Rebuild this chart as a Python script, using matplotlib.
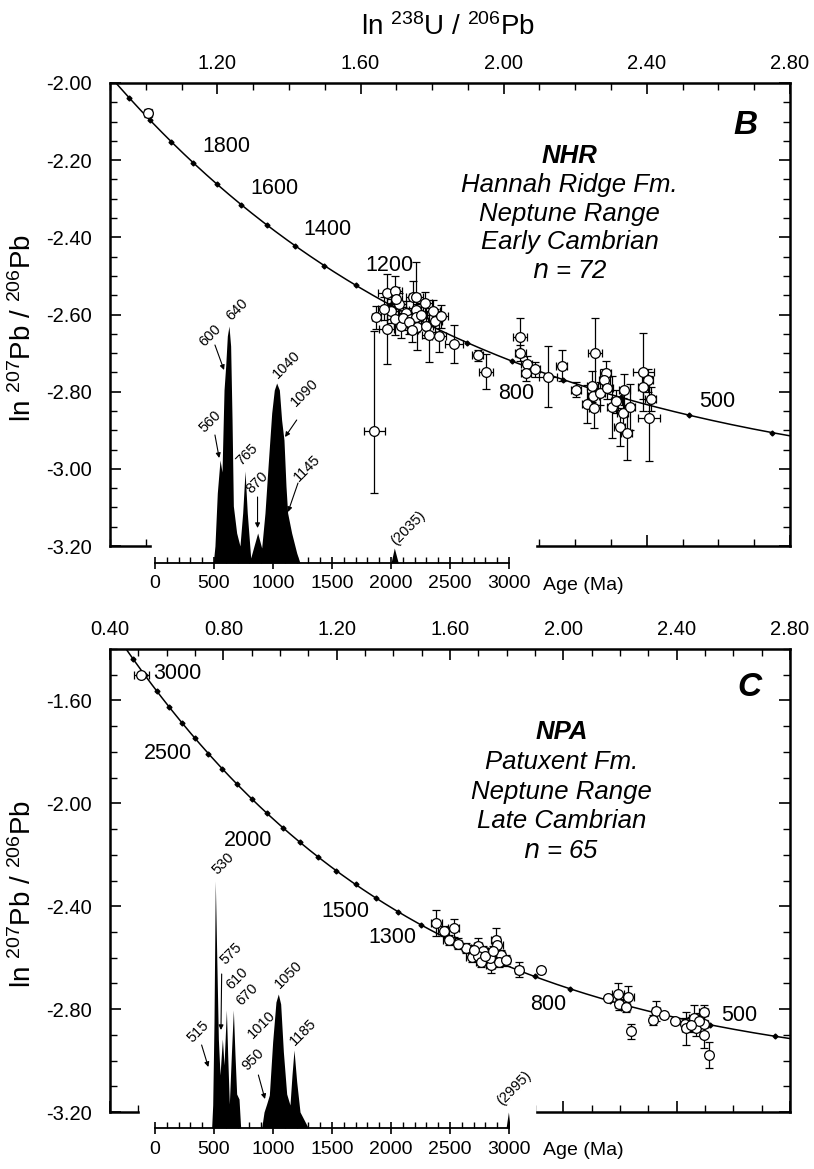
import numpy as np
import matplotlib.pyplot as plt
from matplotlib.ticker import MultipleLocator, FormatStrFormatter
from matplotlib.patches import Rectangle

plt.rcParams['font.family'] = ['Liberation Sans', 'DejaVu Sans']
plt.rcParams['mathtext.default'] = 'regular'
plt.rcParams['axes.unicode_minus'] = False

# ---------------- data ----------------
# panel B (NHR): ln 238U/206Pb, ln 207Pb/206Pb and errors
b_x = [1.007, 1.639, 1.644, 1.673, 1.695, 1.673, 1.686, 1.707, 1.695, 1.714,
       1.728, 1.718, 1.740, 1.746, 1.755, 1.755, 1.757, 1.754, 1.779, 1.783,
       1.791, 1.802, 1.809, 1.825, 1.820, 1.862, 1.927, 1.951, 2.046, 2.046,
       2.064, 2.062, 2.087, 2.125, 2.162, 2.202, 2.234, 2.255, 2.248, 2.250,
       2.253, 2.269, 2.285, 2.281, 2.290, 2.304, 2.315, 2.332, 2.337, 2.324,
       2.344, 2.352, 2.390, 2.402, 2.390, 2.411, 2.406, 1.665, 1.700, 1.735,
       1.770, 1.745]
b_y = [-2.078, -2.903, -2.607, -2.545, -2.539, -2.638, -2.591, -2.573, -2.612, -2.631,
       -2.595, -2.610, -2.612, -2.554, -2.555, -2.588, -2.633, -2.607, -2.571, -2.631,
       -2.653, -2.592, -2.616, -2.605, -2.657, -2.676, -2.706, -2.748, -2.659, -2.700,
       -2.728, -2.752, -2.742, -2.761, -2.733, -2.795, -2.832, -2.700, -2.786, -2.810,
       -2.843, -2.804, -2.751, -2.771, -2.790, -2.839, -2.825, -2.856, -2.795, -2.892,
       -2.908, -2.839, -2.749, -2.771, -2.788, -2.819, -2.869, -2.585, -2.560, -2.620,
       -2.600, -2.640]
b_xerr = [0.010, 0.030, 0.012, 0.025, 0.020, 0.020, 0.020, 0.020, 0.020, 0.020,
          0.020, 0.020, 0.020, 0.020, 0.020, 0.020, 0.020, 0.020, 0.020, 0.020,
          0.020, 0.020, 0.020, 0.020, 0.020, 0.025, 0.015, 0.020, 0.020, 0.015,
          0.015, 0.015, 0.015, 0.025, 0.015, 0.015, 0.015, 0.020, 0.015, 0.015,
          0.015, 0.015, 0.015, 0.015, 0.015, 0.015, 0.015, 0.015, 0.015, 0.015,
          0.015, 0.015, 0.030, 0.015, 0.015, 0.015, 0.030, 0.015, 0.015, 0.015,
          0.015, 0.015]
b_yerr_lo = [0.010, 0.160, 0.030, 0.050, 0.040, 0.090, 0.030, 0.030, 0.040, 0.030,
             0.030, 0.030, 0.030, 0.040, 0.090, 0.030, 0.060, 0.030, 0.030, 0.030,
             0.070, 0.030, 0.030, 0.030, 0.040, 0.050, 0.015, 0.045, 0.050, 0.020,
             0.020, 0.020, 0.020, 0.080, 0.040, 0.020, 0.050, 0.090, 0.040, 0.030,
             0.050, 0.030, 0.030, 0.030, 0.030, 0.080, 0.030, 0.040, 0.040, 0.050,
             0.070, 0.060, 0.100, 0.030, 0.030, 0.030, 0.110, 0.030, 0.030, 0.030,
             0.030, 0.030]
b_yerr_hi = list(b_yerr_lo)
b_yerr_hi[1] = 0.260

# panel C (NPA)
c_x = [0.511, 1.552, 1.578, 1.613, 1.596, 1.658, 1.698, 1.717, 1.678, 1.698,
       1.708, 1.743, 1.761, 1.767, 1.779, 1.773, 1.796, 1.740, 1.843, 1.922,
       2.159, 2.193, 2.229, 2.197, 2.220, 2.240, 2.327, 2.315, 2.356, 2.394,
       2.429, 2.433, 2.460, 2.468, 2.495, 2.495, 2.497, 2.515, 1.685, 1.725,
       1.750, 2.480, 2.450, 1.628]
c_y = [-1.500, -2.466, -2.497, -2.485, -2.530, -2.563, -2.555, -2.576, -2.598, -2.592,
       -2.617, -2.630, -2.533, -2.550, -2.591, -2.617, -2.611, -2.600, -2.647, -2.649,
       -2.756, -2.740, -2.752, -2.782, -2.791, -2.886, -2.808, -2.843, -2.821, -2.847,
       -2.856, -2.875, -2.834, -2.875, -2.813, -2.858, -2.901, -2.978, -2.570, -2.595,
       -2.575, -2.845, -2.860, -2.545]
c_xerr = [0.025, 0.020, 0.020, 0.020, 0.020, 0.015, 0.015, 0.015, 0.020, 0.015,
          0.015, 0.015, 0.015, 0.020, 0.015, 0.015, 0.015, 0.015, 0.015, 0.010,
          0.010, 0.020, 0.020, 0.015, 0.015, 0.010, 0.015, 0.010, 0.010, 0.010,
          0.010, 0.015, 0.015, 0.015, 0.015, 0.015, 0.010, 0.010, 0.015, 0.015,
          0.015, 0.015, 0.015, 0.015]
c_yerr = [0.010, 0.050, 0.020, 0.035, 0.020, 0.020, 0.030, 0.020, 0.020, 0.020,
          0.020, 0.030, 0.050, 0.020, 0.020, 0.020, 0.020, 0.020, 0.030, 0.010,
          0.010, 0.040, 0.040, 0.020, 0.020, 0.030, 0.040, 0.020, 0.010, 0.010,
          0.020, 0.065, 0.050, 0.030, 0.030, 0.030, 0.050, 0.050, 0.020, 0.020,
          0.020, 0.030, 0.030, 0.020]

# age probability curves (age Ma, relative probability)
b_pdf_age = [494, 508, 528, 551, 568, 585, 599, 613, 627, 641, 653, 664, 692, 720,
             743, 763, 782, 811, 839, 870, 904, 932, 960, 989, 1011, 1031, 1054,
             1073, 1093, 1110, 1124, 1158, 1201, 1229, 2000, 2028, 2062]
b_pdf_prob = [0, 17, 70, 103, 91, 173, 197, 227, 237, 217, 143, 57, 30, 17,
              50, 92, 50, 5, 17, 30, 15, 50, 100, 150, 173, 180, 173,
              143, 123, 77, 50, 30, 10, 0, 0, 15, 0]
c_pdf_age = [480, 489, 500, 511, 523, 537, 551, 571, 585, 605, 616, 630, 647, 664,
             678, 692, 712, 726, 904, 924, 946, 969, 997, 1025, 1045, 1065, 1088,
             1116, 1144, 1161, 1178, 1201, 1229, 1299, 2975, 2995, 3010]
c_pdf_prob = [0, 23, 106, 247, 173, 89, 53, 89, 63, 118, 73, 24, 73, 118,
              73, 34, 29, 0, 0, 16, 24, 33, 86, 126, 134, 124, 76,
              34, 23, 53, 78, 46, 16, 0, 0, 16, 0]

# peak labels: text, age, height
b_peaks = [("560", 466, 141), ("600", 466, 228), ("640", 692, 253), ("765", 777, 108),
           ("870", 862, 80), ("1040", 1116, 198), ("1090", 1271, 170),
           ("1145", 1286, 95), ("(2035)", 2147, 35)]
b_arrows = [((508, 128), (544, 105)), ((508, 218), (585, 193)), ((869, 66), (869, 35)),
            ((1201, 143), (1102, 126)), ((1212, 80), (1127, 51))]
c_peaks = [("530", 579, 264), ("575", 650, 174), ("610", 692, 149), ("670", 777, 133),
           ("515", 367, 96), ("1010", 904, 103), ("1050", 1130, 153), ("950", 833, 68),
           ("1185", 1257, 96), ("(2995)", 3040, 40)]
c_arrows = [((565, 154), (559, 98)), ((395, 83), (452, 61)), ((876, 53), (932, 29))]

# concordia age labels and pixel offsets
b_conc_ages = [1800, 1600, 1400, 1200, 800, 500]
b_conc_off = [(33, 16), (33, 16), (33, 16), (34, 20), (4, -32), (28, 14)]
c_conc_ages = [3000, 2500, 2000, 1500, 1300, 800, 500]
c_conc_off = [(32, 2), (-40, 0), (-35, -13), (-31, -13), (-29, -12), (-22, -16), (29, 9)]


def concordia(t_ma):
    # Tera-Wasserburg concordia in log space
    t = np.asarray(t_ma, dtype=float) * 1e6
    e8 = np.exp(1.55125e-10 * t) - 1
    e5 = np.exp(9.8485e-10 * t) - 1
    return np.log(1 / e8), np.log(e5 / e8 / 137.88)


W, H = 814, 1169
fig = plt.figure(figsize=(W / 100, H / 100), dpi=100)


def px_box(l, t, r, b):
    return [l / W, 1 - b / H, (r - l) / W, (b - t) / H]


def main_panel(box, xlim, ylim, ymaj, ymin, gap, ylab_y):
    ax = fig.add_axes(box)
    ax.set_xlim(*xlim)
    ax.set_ylim(*ylim)
    ax.xaxis.set_major_locator(MultipleLocator(0.4))
    ax.xaxis.set_minor_locator(MultipleLocator(0.1))
    ax.yaxis.set_major_locator(MultipleLocator(ymaj))
    ax.yaxis.set_minor_locator(MultipleLocator(ymin))
    ax.xaxis.set_major_formatter(FormatStrFormatter('%.2f'))
    ax.yaxis.set_major_formatter(FormatStrFormatter('%.2f'))
    ax.tick_params(which='both', direction='in', top=True, right=True,
                   labeltop=True, labelbottom=False, labelsize=14.5)
    ax.tick_params(axis='x', which='both', pad=7)
    ax.tick_params(axis='y', which='both', pad=13)
    ax.tick_params(which='major', length=8, width=1.2)
    ax.tick_params(which='minor', length=5, width=1.0)
    for s in ax.spines.values():
        s.set_linewidth(1.8)
    fig.text(23 / W, 1 - ylab_y / H, r'ln $^{207}$Pb / $^{206}$Pb', fontsize=20,
             rotation=90, ha='center', va='center')
    # gap in the bottom frame where the age axis sits
    ax.add_patch(Rectangle((gap[0], -0.012), gap[1] - gap[0], 0.035,
                           transform=ax.transAxes, color='white', zorder=5,
                           clip_on=False))
    # concordia curve with 100 Ma markers
    t = np.linspace(50, 4500, 900)
    cx, cy = concordia(t)
    ax.plot(cx, cy, color='k', lw=1.1, zorder=2)
    mx, my = concordia(np.arange(100, 4100, 100))
    ax.plot(mx, my, 'D', color='k', ms=2.5, zorder=2)
    return ax


def data_points(ax, x, y, xerr, yerr):
    ax.errorbar(x, y, xerr=xerr, yerr=yerr, fmt='o', mfc='white', mec='k', mew=0.9,
                ms=7, ecolor='k', elinewidth=0.9, capsize=3, capthick=0.9, zorder=3)


def conc_labels(ax, ages, offs):
    for a, (dx, dy) in zip(ages, offs):
        px, py = concordia(a)
        ax.annotate(str(a), (px, py), xytext=(dx, dy), textcoords='offset pixels',
                    ha='center', va='center', fontsize=15.5)


def sample_text(ax, x, y0, step, lines):
    ax.text(x, y0, lines[0], transform=ax.transAxes, fontsize=18.5, fontweight='bold',
            style='italic', ha='center', va='center')
    for i, s in enumerate(lines[1:], start=1):
        ax.text(x, y0 - i * step, s, transform=ax.transAxes, fontsize=18.5,
                style='italic', ha='center', va='center')


def age_panel(box, age, prob, peaks, arrows):
    ax = fig.add_axes(box)
    ax.patch.set_alpha(0)
    ax.fill_between(age, prob, color='k', lw=0)
    ax.set_xlim(0, 3000)
    ax.set_ylim(0, 260)
    for s in ['left', 'right', 'top']:
        ax.spines[s].set_visible(False)
    ax.spines['bottom'].set_linewidth(1.3)
    ax.set_yticks([])
    ax.xaxis.set_major_locator(MultipleLocator(500))
    ax.xaxis.set_minor_locator(MultipleLocator(100))
    ax.tick_params(axis='x', which='major', direction='inout', length=8, width=1.2,
                   labelsize=14, pad=5)
    ax.tick_params(axis='x', which='minor', direction='in', length=4, width=1.0)
    ax.text(1.095, -0.085, 'Age (Ma)', transform=ax.transAxes, fontsize=14,
            ha='left', va='center')
    for lab, a, h in peaks:
        ax.text(a, h, lab, rotation=45, ha='center', va='center', fontsize=10.5)
    for tail, tip in arrows:
        ax.annotate('', xy=tip, xytext=tail,
                    arrowprops=dict(arrowstyle='-|>', lw=0.8, color='k',
                                    mutation_scale=7, shrinkA=0, shrinkB=0))
    return ax


# ---------------- panel B ----------------
axB = main_panel(px_box(110, 83, 790, 546), (0.90, 2.80), (-3.20, -2.00), 0.2, 0.05,
                 (0.062, 0.625), 328)
fig.text(448 / W, 1 - 27 / H, r'ln $^{238}$U / $^{206}$Pb', fontsize=20,
         ha='center', va='center')
data_points(axB, b_x, b_y, b_xerr, [b_yerr_lo, b_yerr_hi])
conc_labels(axB, b_conc_ages, b_conc_off)
axB.text(0.934, 0.909, 'B', transform=axB.transAxes, fontsize=24, fontweight='bold',
         style='italic', ha='center', va='center')
sample_text(axB, 0.676, 0.842, 0.062,
            ['NHR', 'Hannah Ridge Fm.', 'Neptune Range', 'Early Cambrian',
             '$\\it{n}$ = 72'])
age_panel(px_box(155, 303, 509, 563), b_pdf_age, b_pdf_prob, b_peaks, b_arrows)

# ---------------- panel C ----------------
axC = main_panel(px_box(110, 649, 790, 1112), (0.40, 2.80), (-3.20, -1.40), 0.4, 0.1,
                 (0.044, 0.625), 894)
data_points(axC, c_x, c_y, c_xerr, c_yerr)
conc_labels(axC, c_conc_ages, c_conc_off)
axC.text(0.94, 0.916, 'C', transform=axC.transAxes, fontsize=24, fontweight='bold',
         style='italic', ha='center', va='center')
sample_text(axC, 0.664, 0.820, 0.064,
            ['NPA', 'Patuxent Fm.', 'Neptune Range', 'Late Cambrian', '$\\it{n}$ = 65'])
age_panel(px_box(155, 868, 509, 1128), c_pdf_age, c_pdf_prob, c_peaks, c_arrows)

fig.savefig('out.png', dpi=100)
